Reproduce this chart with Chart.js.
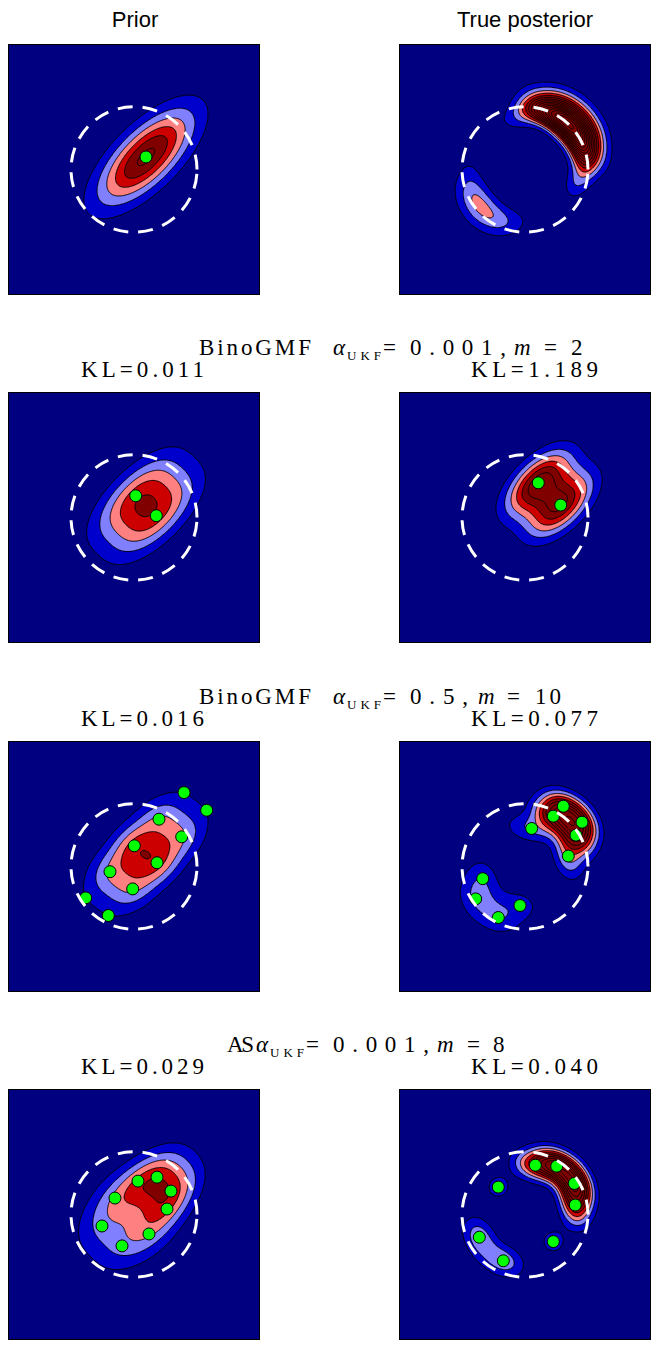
<!DOCTYPE html>
<html>
<head>
<meta charset="utf-8">
<title>BinoGMF and AS mixture approximations</title>
<script src="https://cdn.jsdelivr.net/npm/chart.js@4.4.1/dist/chart.umd.min.js"></script>
<style>
  html, body { margin: 0; padding: 0; background: #fff; }
  #page { position: relative; width: 654px; height: 1346px; overflow: hidden; }
  #page canvas { position: absolute; }
  #labels { position: absolute; left: 0; top: 0; }
  .sans { font-family: "Liberation Sans", Arial, sans-serif; font-size: 22px; }
  .serif { font-family: "Liberation Serif", "Times New Roman", serif; font-size: 23px; }
  .sub { font-family: "Liberation Serif", "Times New Roman", serif; font-size: 13px; }
  .it { font-style: italic; }
</style>
</head>
<body>
<div id="page"><svg id="labels" width="654" height="1346"></svg></div>
<script>
// contour levels (pdf units) and band colours
const contourStep = 0.134;
const contourCount = 40;
const bandColors = ['#000080', '#0000cc', '#8080ff', '#ff8080', '#cc0000', '#800000'];

// prior: mean, principal std devs, orientation in degrees
const priorMean = [0.19, 0.20];
const priorSd = [0.67, 0.285];
const priorAngle = 45;

// measured range, drawn as the dashed circle
const measuredRange = 1.0;

// mixture components: [x, y, sd1, sd2, angle (deg), weight]
// true posterior: two crescents along the range circle
const truePost = [
  [-0.142, 0.808, 0.22, 0.14, 190, 0.033],
  [0.168, 0.955, 0.22, 0.14, 170, 0.11],
  [0.440, 0.864, 0.22, 0.14, 153, 0.175],
  [0.674, 0.698, 0.22, 0.14, 136, 0.23],
  [0.848, 0.470, 0.22, 0.14, 119, 0.175],
  [0.949, 0.202, 0.22, 0.14, 102, 0.11],
  [0.871, -0.122, 0.22, 0.14, 82, 0.038],
  [0.752, -0.274, 0.18, 0.12, 70, 0.013],
  [0.400, 1.099, 0.30, 0.15, 160, 0.10],
  [0.813, 0.842, 0.30, 0.15, 136, 0.14],
  [1.085, 0.438, 0.30, 0.15, 112, 0.10],
  [0.868, 0.899, 0.45, 0.25, 136, 0.08],
  [-0.877, 0.077, 0.22, 0.17, 265, 0.018],
  [-0.846, -0.308, 0.22, 0.17, 290, 0.05],
  [-0.669, -0.602, 0.22, 0.17, 312, 0.065],
  [-0.380, -0.816, 0.22, 0.17, 335, 0.05],
  [-0.028, -0.800, 0.22, 0.17, 358, 0.018],
  [-0.827, -0.694, 0.40, 0.22, 310, 0.05]
];
const binoM2Prior = [
  [0.027, 0.346, 0.60, 0.25, 45, 0.5],
  [0.354, 0.029, 0.60, 0.25, 45, 0.5]
];
const binoM2Post = [
  [0.211, 0.552, 0.44, 0.22, 45, 0.52],
  [0.567, 0.198, 0.44, 0.22, 45, 0.48]
];
const binoM10Prior = [
  [0.794, 1.178, 0.29, 0.235, 42, 0.03],
  [1.154, 0.897, 0.29, 0.235, 42, 0.03],
  [0.397, 0.754, 0.29, 0.235, 42, 0.13],
  [0.757, 0.473, 0.29, 0.235, 42, 0.13],
  [0.005, 0.330, 0.29, 0.235, 42, 0.19],
  [0.365, 0.060, 0.29, 0.235, 42, 0.19],
  [-0.381, -0.083, 0.29, 0.235, 42, 0.13],
  [-0.021, -0.357, 0.29, 0.235, 42, 0.13],
  [-0.767, -0.500, 0.29, 0.235, 42, 0.03],
  [-0.408, -0.781, 0.29, 0.235, 42, 0.03]
];
const binoM10Post = [
  [0.608, 0.960, 0.24, 0.16, 148, 0.14],
  [0.449, 0.802, 0.24, 0.16, 151, 0.16],
  [0.905, 0.706, 0.24, 0.16, 128, 0.13],
  [0.106, 0.606, 0.30, 0.16, 170, 0.08],
  [0.810, 0.500, 0.24, 0.16, 122, 0.17],
  [0.687, 0.167, 0.26, 0.16, 104, 0.10],
  [-0.671, -0.194, 0.26, 0.20, 106, 0.065],
  [-0.783, -0.516, 0.26, 0.20, 123, 0.065],
  [-0.079, -0.622, 0.26, 0.20, 173, 0.055],
  [-0.424, -0.813, 0.26, 0.20, 153, 0.065]
];
const asPrior = [
  [0.365, 0.595, 0.42, 0.22, 45, 0.20],
  [0.063, 0.532, 0.42, 0.22, 45, 0.14],
  [0.587, 0.373, 0.42, 0.22, 45, 0.19],
  [-0.302, 0.262, 0.40, 0.26, 45, 0.12],
  [0.524, 0.087, 0.42, 0.22, 45, 0.14],
  [-0.508, -0.183, 0.40, 0.26, 45, 0.12],
  [0.238, -0.310, 0.40, 0.26, 45, 0.12],
  [-0.190, -0.500, 0.40, 0.26, 45, 0.12]
];
const asPost = [
  [0.164, 0.786, 0.24, 0.16, 168, 0.15],
  [0.503, 0.770, 0.24, 0.16, 147, 0.23],
  [0.783, 0.495, 0.24, 0.16, 122, 0.24],
  [0.798, 0.151, 0.24, 0.16, 101, 0.16],
  [-0.424, 0.437, 0.15, 0.15, 0, 0.03],
  [-0.725, -0.362, 0.24, 0.17, 117, 0.09],
  [0.449, -0.432, 0.15, 0.15, 0, 0.03],
  [-0.344, -0.738, 0.24, 0.17, 155, 0.09]
];

const columnTitles = ['Prior', 'True posterior'];
const klPrior = ['0.011', '0.016', '0.029'];
const klPosterior = ['1.189', '0.077', '0.040'];

const levels = [];
for (let k = 1; k <= contourCount; k++) levels.push(k * contourStep);

// ---- density model ----
function mixture(comps) {
  const parts = comps.map(([mx, my, s1, s2, deg, w]) => {
    const t = deg * Math.PI / 180;
    return { mx, my, c: Math.cos(t), s: Math.sin(t), i1: 1 / (s1 * s1), i2: 1 / (s2 * s2), k: w / (2 * Math.PI * s1 * s2) };
  });
  return (x, y) => {
    let f = 0;
    for (const p of parts) {
      const dx = x - p.mx, dy = y - p.my;
      const u = dx * p.c + dy * p.s, v = -dx * p.s + dy * p.c;
      f += p.k * Math.exp(-0.5 * (u * u * p.i1 + v * v * p.i2));
    }
    return f;
  };
}
const priorPdf = mixture([[priorMean[0], priorMean[1], priorSd[0], priorSd[1], priorAngle, 1]]);

// ---- drawing helpers ----
// marching squares for one level, segments added to the current path
function march(f, w, h, L, ox, oy, ctx) {
  const seg = (p, q) => { ctx.moveTo(ox + p[0], oy + p[1]); ctx.lineTo(ox + q[0], oy + q[1]); };
  for (let j = 0; j < h - 1; j++) {
    for (let i = 0; i < w - 1; i++) {
      const a = f[j * w + i], b = f[j * w + i + 1], c = f[(j + 1) * w + i + 1], d = f[(j + 1) * w + i];
      const A = a > L, B = b > L, C = c > L, D = d > L;
      if (A === B && B === C && C === D) continue;
      const top = A !== B ? [i + (L - a) / (b - a), j] : null;
      const right = B !== C ? [i + 1, j + (L - b) / (c - b)] : null;
      const bottom = D !== C ? [i + (L - d) / (c - d), j + 1] : null;
      const left = A !== D ? [i, j + (L - a) / (d - a)] : null;
      const pts = [top, right, bottom, left].filter(Boolean);
      if (pts.length === 2) seg(pts[0], pts[1]);
      else if (pts.length === 4) {
        const mid = (a + b + c + d) / 4 > L;
        if (mid === A) { seg(top, right); seg(bottom, left); }
        else { seg(top, left); seg(right, bottom); }
      }
    }
  }
}

const rgbBands = bandColors.map(hex => [1, 3, 5].map(o => parseInt(hex.slice(o, o + 2), 16)));

// filled contours, evaluated at every pixel through the chart scales
const densityLayer = {
  id: 'densityLayer',
  beforeDatasetsDraw(chart, args, opts) {
    const { ctx, chartArea: a, scales: { x, y } } = chart;
    const w = Math.round(a.right - a.left), h = Math.round(a.bottom - a.top);
    const xs = new Float64Array(w), ys = new Float64Array(h);
    for (let i = 0; i < w; i++) xs[i] = x.getValueForPixel(a.left + i + 0.5);
    for (let j = 0; j < h; j++) ys[j] = y.getValueForPixel(a.top + j + 0.5);
    const f = new Float64Array(w * h);
    let fmax = 0;
    for (let j = 0; j < h; j++) {
      for (let i = 0; i < w; i++) f[j * w + i] = opts.field(xs[i], ys[j]);
    }
    const img = ctx.createImageData(w, h);
    for (let k = 0; k < f.length; k++) {
      if (f[k] > fmax) fmax = f[k];
      let band = 0;
      while (band < levels.length && f[k] > levels[band]) band++;
      const col = rgbBands[Math.min(band, rgbBands.length - 1)];
      img.data[k * 4] = col[0]; img.data[k * 4 + 1] = col[1]; img.data[k * 4 + 2] = col[2]; img.data[k * 4 + 3] = 255;
    }
    ctx.putImageData(img, a.left, a.top);
    ctx.save();
    ctx.beginPath(); ctx.rect(a.left, a.top, w, h); ctx.clip();
    ctx.strokeStyle = '#000'; ctx.lineWidth = 1;
    ctx.beginPath();
    for (const L of levels) {
      if (L >= fmax) break;
      march(f, w, h, L, a.left + 0.5, a.top + 0.5, ctx);
    }
    ctx.stroke();
    ctx.restore();
  }
};

const rangeCircle = {
  id: 'rangeCircle',
  afterDatasetsDraw(chart) {
    const { ctx, scales: { x, y } } = chart;
    const cx = x.getPixelForValue(0), cy = y.getPixelForValue(0);
    const rx = x.getPixelForValue(measuredRange) - cx, ry = cy - y.getPixelForValue(measuredRange);
    ctx.save();
    ctx.strokeStyle = '#fff'; ctx.lineWidth = 3; ctx.setLineDash([15, 10]);
    ctx.beginPath(); ctx.ellipse(cx, cy, rx, ry, 0, 0, -2 * Math.PI, true); ctx.stroke();
    ctx.restore();
  },
  afterDraw(chart) {
    const { ctx, chartArea: a } = chart;
    ctx.save();
    ctx.strokeStyle = '#000'; ctx.lineWidth = 1;
    ctx.strokeRect(a.left + 0.5, a.top + 0.5, a.right - a.left - 1, a.bottom - a.top - 1);
    ctx.restore();
  }
};

// ---- panels ----
const colX = [8, 399];
const rowY = [44, 392, 741, 1089];
const panels = [
  { col: 0, row: 0, field: priorPdf, dots: [priorMean] },
  { col: 1, row: 0, field: mixture(truePost), dots: [] },
  { col: 0, row: 1, field: mixture(binoM2Prior), dots: binoM2Prior },
  { col: 1, row: 1, field: mixture(binoM2Post), dots: binoM2Post },
  { col: 0, row: 2, field: mixture(binoM10Prior), dots: binoM10Prior },
  { col: 1, row: 2, field: mixture(binoM10Post), dots: binoM10Post },
  { col: 0, row: 3, field: mixture(asPrior), dots: asPrior },
  { col: 1, row: 3, field: mixture(asPost), dots: asPost }
];

const page = document.getElementById('page');
panels.forEach(p => {
  const cv = document.createElement('canvas');
  cv.width = 252; cv.height = 251;
  cv.style.left = colX[p.col] + 'px';
  cv.style.top = rowY[p.row] + 'px';
  page.appendChild(cv);
  new Chart(cv, {
    type: 'scatter',
    data: {
      datasets: [{
        data: p.dots.map(d => ({ x: d[0], y: d[1] })),
        pointRadius: 6, pointBorderWidth: 1,
        pointBackgroundColor: '#00ff00', pointBorderColor: '#000'
      }]
    },
    options: {
      responsive: false, animation: false, events: [],
      layout: { padding: 0, autoPadding: false },
      plugins: {
        legend: { display: false }, tooltip: { enabled: false },
        densityLayer: { field: p.field }
      },
      scales: {
        x: { type: 'linear', min: -2, max: 2, display: false },
        y: { type: 'linear', min: -2, max: 2, display: false }
      }
    },
    plugins: [densityLayer, rangeCircle]
  });
});

// ---- text ----
const svg = document.getElementById('labels');
function addText(str, x, y, cls, len, anchor) {
  const t = document.createElementNS('http://www.w3.org/2000/svg', 'text');
  t.setAttribute('x', x); t.setAttribute('y', y); t.setAttribute('class', cls);
  if (len) { t.setAttribute('textLength', len); t.setAttribute('lengthAdjust', 'spacing'); }
  if (anchor) t.setAttribute('text-anchor', anchor);
  t.textContent = str;
  svg.appendChild(t);
}
addText(columnTitles[0], 135, 27, 'sans', 0, 'middle');
addText(columnTitles[1], 525, 27, 'sans', 0, 'middle');

// method line of each approximation row: [text, x, class, length, baseline shift]
const methodLines = [
  [['BinoGMF', 199, 'serif', 112, 0], ['\u03b1', 333, 'serif it', 0, 0], ['UKF', 347, 'sub', 34, 5],
   ['=', 383, 'serif', 0, 0], ['0.001,', 410, 'serif', 96, 0], ['m', 514, 'serif it', 0, 0],
   ['=', 544, 'serif', 0, 0], ['2', 571, 'serif', 0, 0]],
  [['BinoGMF', 199, 'serif', 112, 0], ['\u03b1', 333, 'serif it', 0, 0], ['UKF', 347, 'sub', 34, 5],
   ['=', 383, 'serif', 0, 0], ['0.5,', 410, 'serif', 58, 0], ['m', 478, 'serif it', 0, 0],
   ['=', 507, 'serif', 0, 0], ['10', 535, 'serif', 26, 0]],
  [['AS', 227, 'serif', 27, 0], ['\u03b1', 256, 'serif it', 0, 0], ['UKF', 270, 'sub', 34, 5],
   ['=', 306, 'serif', 0, 0], ['0.001,', 333, 'serif', 96, 0], ['m', 437, 'serif it', 0, 0],
   ['=', 467, 'serif', 0, 0], ['8', 493, 'serif', 0, 0]]
];
methodLines.forEach((line, r) => {
  const top = rowY[r + 1];
  line.forEach(([s, x, cls, len, dy]) => addText(s, x, top - 37 + dy, cls, len));
  addText('KL=' + klPrior[r], 81, top - 15, 'serif', 123);
  addText('KL=' + klPosterior[r], 471, top - 15, 'serif', 127);
});
</script>
</body>
</html>
